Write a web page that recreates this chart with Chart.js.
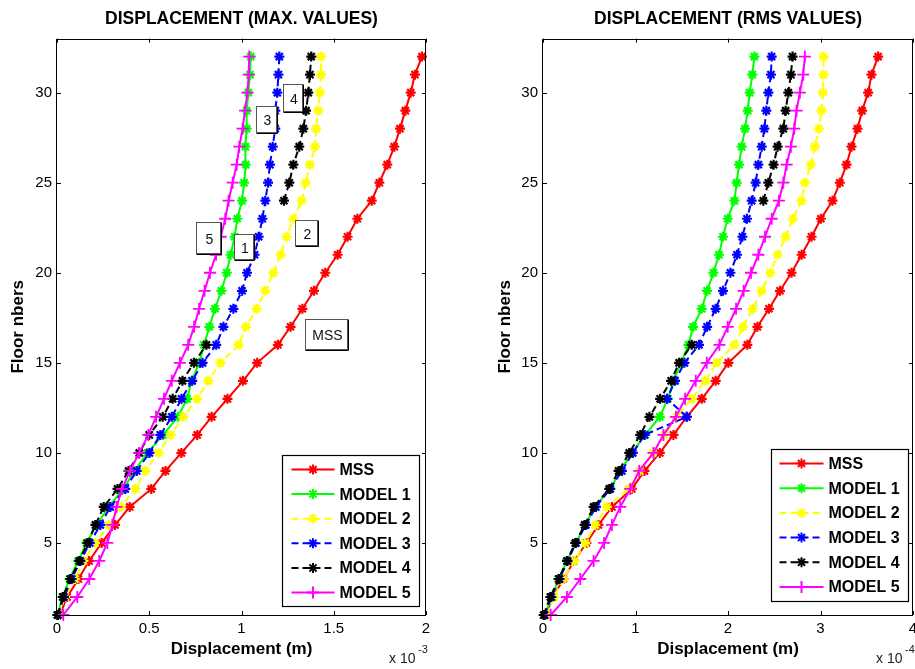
<!DOCTYPE html>
<html>
<head>
<meta charset="utf-8">
<script src="https://cdn.jsdelivr.net/npm/chart.js@4.4.0/dist/chart.umd.min.js"></script>
<style>
html, body { margin: 0; padding: 0; background: #fff; overflow: hidden; }
#wrap { position: relative; width: 915px; height: 669px; overflow: hidden; }
#maxChart { position: absolute; left: 0; top: 0; }
#rmsChart { position: absolute; left: 457px; top: 0; }
</style>
</head>
<body>
<div id="wrap">
  <canvas id="maxChart" width="457" height="669"></canvas>
  <canvas id="rmsChart" width="480" height="669"></canvas>
</div>
<script>
// Floors (y axis) and tick labels
const floors = [1, 2, 3, 4, 5, 6, 7, 8, 9, 10, 11, 12, 13, 14, 15, 16,
                17, 18, 19, 20, 21, 22, 23, 24, 25, 26, 27, 28, 29, 30, 31, 32];
const yTicks = [5, 10, 15, 20, 25, 30];
const maxTicks = [0, 0.5, 1, 1.5, 2];
const rmsTicks = [0, 1, 2, 3, 4];
const seriesNames = ["MSS", "MODEL 1", "MODEL 2", "MODEL 3", "MODEL 4", "MODEL 5"];

// MAX values (x 10^-3 m), floor 1..32
const maxMSS = [0.015, 0.055, 0.116, 0.174, 0.242, 0.315, 0.394, 0.511, 0.588, 0.674, 0.760, 0.838, 0.924, 1.008, 1.085, 1.197,
                1.266, 1.330, 1.393, 1.454, 1.521, 1.575, 1.628, 1.706, 1.747, 1.790, 1.828, 1.859, 1.888, 1.917, 1.940, 1.978];
const maxM1 = [0.003, 0.030, 0.068, 0.115, 0.160, 0.215, 0.280, 0.360, 0.420, 0.490, 0.575, 0.655, 0.705, 0.730, 0.771, 0.797,
               0.826, 0.856, 0.891, 0.920, 0.941, 0.963, 0.977, 1.003, 1.014, 1.023, 1.021, 1.028, 1.028, 1.037, 1.046, 1.050];
const maxM2 = [0.010, 0.044, 0.098, 0.143, 0.206, 0.280, 0.345, 0.425, 0.478, 0.550, 0.617, 0.684, 0.759, 0.820, 0.886, 0.984,
               1.024, 1.082, 1.129, 1.173, 1.212, 1.245, 1.281, 1.326, 1.348, 1.371, 1.398, 1.404, 1.416, 1.425, 1.431, 1.431];
const maxM3 = [0.005, 0.038, 0.080, 0.127, 0.178, 0.235, 0.289, 0.370, 0.432, 0.501, 0.560, 0.622, 0.675, 0.733, 0.789, 0.863,
               0.902, 0.956, 1.003, 1.030, 1.071, 1.093, 1.113, 1.129, 1.144, 1.154, 1.169, 1.183, 1.183, 1.194, 1.200, 1.205];
const maxM4 = [0.002, 0.032, 0.072, 0.121, 0.165, 0.208, 0.253, 0.328, 0.388, 0.446, 0.500, 0.573, 0.627, 0.680, 0.742, 0.810,
               null, null, null, null, null, null, null, 1.230, 1.259, 1.281, 1.313, 1.335, 1.350, 1.362, 1.371, 1.378];
const maxM5 = [0.034, 0.110, 0.175, 0.229, 0.273, 0.300, 0.323, 0.352, 0.396, 0.445, 0.495, 0.537, 0.580, 0.622, 0.666, 0.711,
               0.743, 0.770, 0.800, 0.829, 0.862, 0.887, 0.912, 0.930, 0.952, 0.974, 0.988, 1.006, 1.019, 1.032, 1.039, 1.042];

// RMS values (x 10^-4 m), floor 1..32
const rmsMSS = [0.025, 0.110, 0.220, 0.335, 0.470, 0.600, 0.745, 0.960, 1.097, 1.263, 1.410, 1.554, 1.716, 1.867, 2.004, 2.209,
                2.318, 2.443, 2.562, 2.687, 2.796, 2.903, 3.004, 3.130, 3.209, 3.281, 3.335, 3.400, 3.450, 3.515, 3.551, 3.623];
const rmsM1 = [0.018, 0.097, 0.169, 0.259, 0.356, 0.457, 0.558, 0.727, 0.835, 0.961, 1.104, 1.262, 1.349, 1.410, 1.493, 1.572,
               1.623, 1.716, 1.774, 1.842, 1.903, 1.946, 1.997, 2.069, 2.094, 2.119, 2.148, 2.184, 2.213, 2.234, 2.263, 2.285];
const rmsM2 = [0.043, 0.120, 0.214, 0.340, 0.457, 0.565, 0.690, 0.925, 1.045, 1.187, 1.313, 1.446, 1.608, 1.752, 1.878, 2.069,
               2.162, 2.267, 2.364, 2.457, 2.536, 2.623, 2.702, 2.795, 2.831, 2.896, 2.939, 2.983, 3.011, 3.026, 3.033, 3.033];
const rmsM3 = [0.018, 0.090, 0.180, 0.266, 0.356, 0.464, 0.572, 0.727, 0.853, 0.971, 1.097, 1.554, 1.342, 1.428, 1.529, 1.687,
               1.774, 1.867, 1.946, 2.026, 2.097, 2.155, 2.205, 2.256, 2.299, 2.328, 2.364, 2.393, 2.414, 2.436, 2.464, 2.472];
const rmsM4 = [0.007, 0.079, 0.169, 0.259, 0.349, 0.450, 0.547, 0.716, 0.817, 0.932, 1.051, 1.151, 1.266, 1.385, 1.471, 1.608,
               null, null, null, null, null, null, null, 2.382, 2.436, 2.493, 2.536, 2.598, 2.623, 2.652, 2.680, 2.698];
const rmsM5 = [0.083, 0.259, 0.403, 0.547, 0.660, 0.745, 0.835, 0.943, 1.040, 1.194, 1.302, 1.437, 1.536, 1.651, 1.770, 1.907,
               1.997, 2.087, 2.169, 2.249, 2.328, 2.400, 2.472, 2.551, 2.598, 2.634, 2.680, 2.716, 2.741, 2.777, 2.813, 2.831];

const FONT = "'Liberation Sans', Arial, Helvetica, sans-serif";

// line look for each series (MATLAB colours)
const looks = [
    { color: "#ff0000", dash: [], marker: "star" },
    { color: "#00ff00", dash: [], marker: "star" },
    { color: "#ffff00", dash: [7, 4], marker: "star" },
    { color: "#0000ff", dash: [7, 4], marker: "star" },
    { color: "#000000", dash: [7, 4], marker: "star" },
    { color: "#ff00ff", dash: [], marker: "cross" }
];

function makeDatasets(list) {
    return list.map(function (vals, i) {
        return {
            label: seriesNames[i],
            data: floors.map(function (f, k) { return { x: vals[k], y: f }; }),
            borderColor: looks[i].color,
            backgroundColor: looks[i].color,
            borderWidth: 2,
            borderDash: looks[i].dash,
            pointStyle: looks[i].marker,
            pointRadius: looks[i].marker == "cross" ? 6 : 5,
            pointBorderWidth: looks[i].marker == "cross" ? 1.8 : 2.2,
            pointBorderColor: looks[i].color,
            spanGaps: false,
            tension: 0,
            clip: false,
            order: 5 - i
        };
    });
}

function drawMarker(ctx, style, r, w, x, y) {
    if (Chart.helpers && Chart.helpers.drawPoint) {
        Chart.helpers.drawPoint(ctx, { pointStyle: style, rotation: 0, radius: r, borderWidth: w }, x, y);
        return;
    }
    ctx.lineWidth = w;
    ctx.beginPath();
    ctx.moveTo(x - r, y); ctx.lineTo(x + r, y);
    ctx.moveTo(x, y - r); ctx.lineTo(x, y + r);
    ctx.stroke();
}

// axes box, inward ticks, text boxes, legend and exponent
const matlabPlugin = {
    id: "matlab",
    afterDatasetsDraw(chart, args, opts) {
        const ctx = chart.ctx;
        const a = chart.chartArea;
        const xs = chart.scales.x, ys = chart.scales.y;
        ctx.save();
        ctx.setLineDash([]);
        ctx.strokeStyle = "#000";
        ctx.lineWidth = 1;
        ctx.strokeRect(Math.round(a.left) - 0.5, Math.round(a.top) + 0.5,
                       Math.round(a.right) - Math.round(a.left), Math.round(a.bottom) - Math.round(a.top));

        // inward ticks
        ctx.beginPath();
        xs.ticks.forEach(function (t) {
            const px = Math.round(xs.getPixelForValue(t.value)) + 0.5;
            ctx.moveTo(px, a.bottom); ctx.lineTo(px, a.bottom - 4);
            ctx.moveTo(px, a.top); ctx.lineTo(px, a.top + 4);
        });
        ys.ticks.forEach(function (t) {
            const py = Math.round(ys.getPixelForValue(t.value)) + 0.5;
            ctx.moveTo(a.left, py); ctx.lineTo(a.left + 4, py);
            ctx.moveTo(a.right, py); ctx.lineTo(a.right - 4, py);
        });
        ctx.stroke();

        // text boxes tied to data coordinates
        (opts.notes || []).forEach(function (n) {
            const x0 = Math.round(xs.getPixelForValue(n.x0)) + 0.5;
            const x1 = Math.round(xs.getPixelForValue(n.x1)) + 0.5;
            const y0 = Math.round(ys.getPixelForValue(n.y0)) + 0.5;
            const y1 = Math.round(ys.getPixelForValue(n.y1)) + 0.5;
            ctx.fillStyle = "#fff";
            ctx.fillRect(x0, y0, x1 - x0, y1 - y0);
            ctx.strokeStyle = "#555";
            ctx.strokeRect(x0, y0, x1 - x0, y1 - y0);
            ctx.strokeStyle = "#000";
            ctx.beginPath();
            ctx.moveTo(x1 + 1, y0); ctx.lineTo(x1 + 1, y1 + 1); ctx.lineTo(x0, y1 + 1);
            ctx.stroke();
            ctx.fillStyle = "#111";
            ctx.font = "14px " + FONT;
            ctx.textAlign = "center";
            ctx.textBaseline = "middle";
            ctx.fillText(n.text, (x0 + x1) / 2 + 1, (y0 + y1) / 2 + 2);
        });

        // legend box
        const L = opts.legend;
        const bx = Math.round(a.right - L.right - L.width) + 0.5;
        const by = Math.round(a.bottom - L.bottom - L.height) + 0.5;
        ctx.fillStyle = "#fff";
        ctx.fillRect(bx, by, L.width, L.height);
        ctx.strokeStyle = "#000";
        ctx.lineWidth = 1.2;
        ctx.strokeRect(bx, by, L.width, L.height);
        chart.data.datasets.forEach(function (ds, i) {
            const ry = by + L.first + i * L.row;
            ctx.strokeStyle = ds.borderColor;
            ctx.fillStyle = ds.borderColor;
            ctx.lineWidth = 2;
            ctx.setLineDash(ds.borderDash);
            ctx.beginPath();
            ctx.moveTo(bx + L.line0, ry); ctx.lineTo(bx + L.line1, ry);
            ctx.stroke();
            ctx.setLineDash([]);
            drawMarker(ctx, ds.pointStyle, ds.pointRadius, ds.pointBorderWidth, bx + (L.line0 + L.line1) / 2, ry);
            ctx.fillStyle = "#000";
            ctx.font = "bold 16px " + FONT;
            ctx.textAlign = "left";
            ctx.textBaseline = "middle";
            ctx.fillText(ds.label, bx + L.text, ry + 1);
        });

        // axis multiplier
        ctx.fillStyle = "#222";
        ctx.textAlign = "left";
        ctx.textBaseline = "alphabetic";
        ctx.font = "14px " + FONT;
        ctx.fillText("x 10", a.right - 37, a.bottom + 48);
        ctx.font = "11px " + FONT;
        ctx.fillText(opts.exponent, a.right - 8, a.bottom + 38);
        ctx.restore();
    }
};

function makeOptions(title, ticks, xMax, yWidth, yTitlePad, padRight, plug) {
    return {
        responsive: false,
        animation: false,
        devicePixelRatio: 1,
        events: [],
        indexAxis: "y",
        layout: { padding: { left: 0, right: padRight, top: 0, bottom: 0 } },
        plugins: {
            legend: { display: false },
            tooltip: { enabled: false },
            title: {
                display: true,
                text: title,
                fullSize: false,
                color: "#000",
                font: { family: FONT, size: 17.5, weight: "bold" },
                padding: { top: 9, bottom: 8.6 }
            },
            matlab: plug
        },
        scales: {
            x: {
                type: "linear",
                position: "bottom",
                min: 0,
                max: xMax,
                afterBuildTicks: function (s) { s.ticks = ticks.map(function (v) { return { value: v }; }); },
                afterFit: function (s) { s.height = 54; },
                grid: { display: false, drawTicks: false },
                border: { display: false },
                ticks: {
                    padding: 5, color: "#000", maxRotation: 0, autoSkip: false,
                    font: { family: FONT, size: 15 },
                    callback: function (v) { return String(v); }
                },
                title: {
                    display: true, text: "Displacement (m)", color: "#000",
                    font: { family: FONT, size: 17, weight: "bold" },
                    padding: { top: 0, bottom: 9 }
                }
            },
            y: {
                type: "linear",
                position: "left",
                min: 1,
                max: 33,
                afterBuildTicks: function (s) { s.ticks = yTicks.map(function (v) { return { value: v }; }); },
                afterFit: function (s) { s.width = yWidth; },
                grid: { display: false, drawTicks: false },
                border: { display: false },
                ticks: {
                    padding: 5, color: "#000", autoSkip: false,
                    font: { family: FONT, size: 15 },
                    callback: function (v) { return String(v); }
                },
                title: {
                    display: true, text: "Floor nbers", color: "#000",
                    font: { family: FONT, size: 17, weight: "bold" },
                    padding: { top: yTitlePad, bottom: 0 }
                }
            }
        }
    };
}

new Chart(document.getElementById("maxChart"), {
    type: "line",
    data: { datasets: makeDatasets([maxMSS, maxM1, maxM2, maxM3, maxM4, maxM5]) },
    options: makeOptions("DISPLACEMENT (MAX. VALUES)", maxTicks, 2, 57, 8, 31, {
        exponent: "-3",
        legend: { right: 7, bottom: 9, width: 137, height: 151, first: 14, row: 24.6, line0: 9, line1: 52, text: 57 },
        notes: [
            { text: "MSS", x0: 1.344, x1: 1.572, y0: 17.45, y1: 15.74 },
            { text: "2", x0: 1.290, x1: 1.409, y0: 22.94, y1: 21.55 },
            { text: "1", x0: 0.959, x1: 1.062, y0: 22.16, y1: 20.77 },
            { text: "5", x0: 0.753, x1: 0.883, y0: 22.83, y1: 21.11 },
            { text: "3", x0: 1.079, x1: 1.187, y0: 29.24, y1: 27.80 },
            { text: "4", x0: 1.225, x1: 1.328, y0: 30.46, y1: 29.00 }
        ]
    })
    , plugins: [matlabPlugin]
});

new Chart(document.getElementById("rmsChart"), {
    type: "line",
    data: { datasets: makeDatasets([rmsMSS, rmsM1, rmsM2, rmsM3, rmsM4, rmsM5]) },
    options: makeOptions("DISPLACEMENT (RMS VALUES)", rmsTicks, 4, 86, 38, 24, {
        exponent: "-4",
        legend: { right: 5, bottom: 14, width: 137, height: 152, first: 14, row: 24.7, line0: 8, line1: 52, text: 57 },
        notes: []
    })
    , plugins: [matlabPlugin]
});
</script>
</body>
</html>
